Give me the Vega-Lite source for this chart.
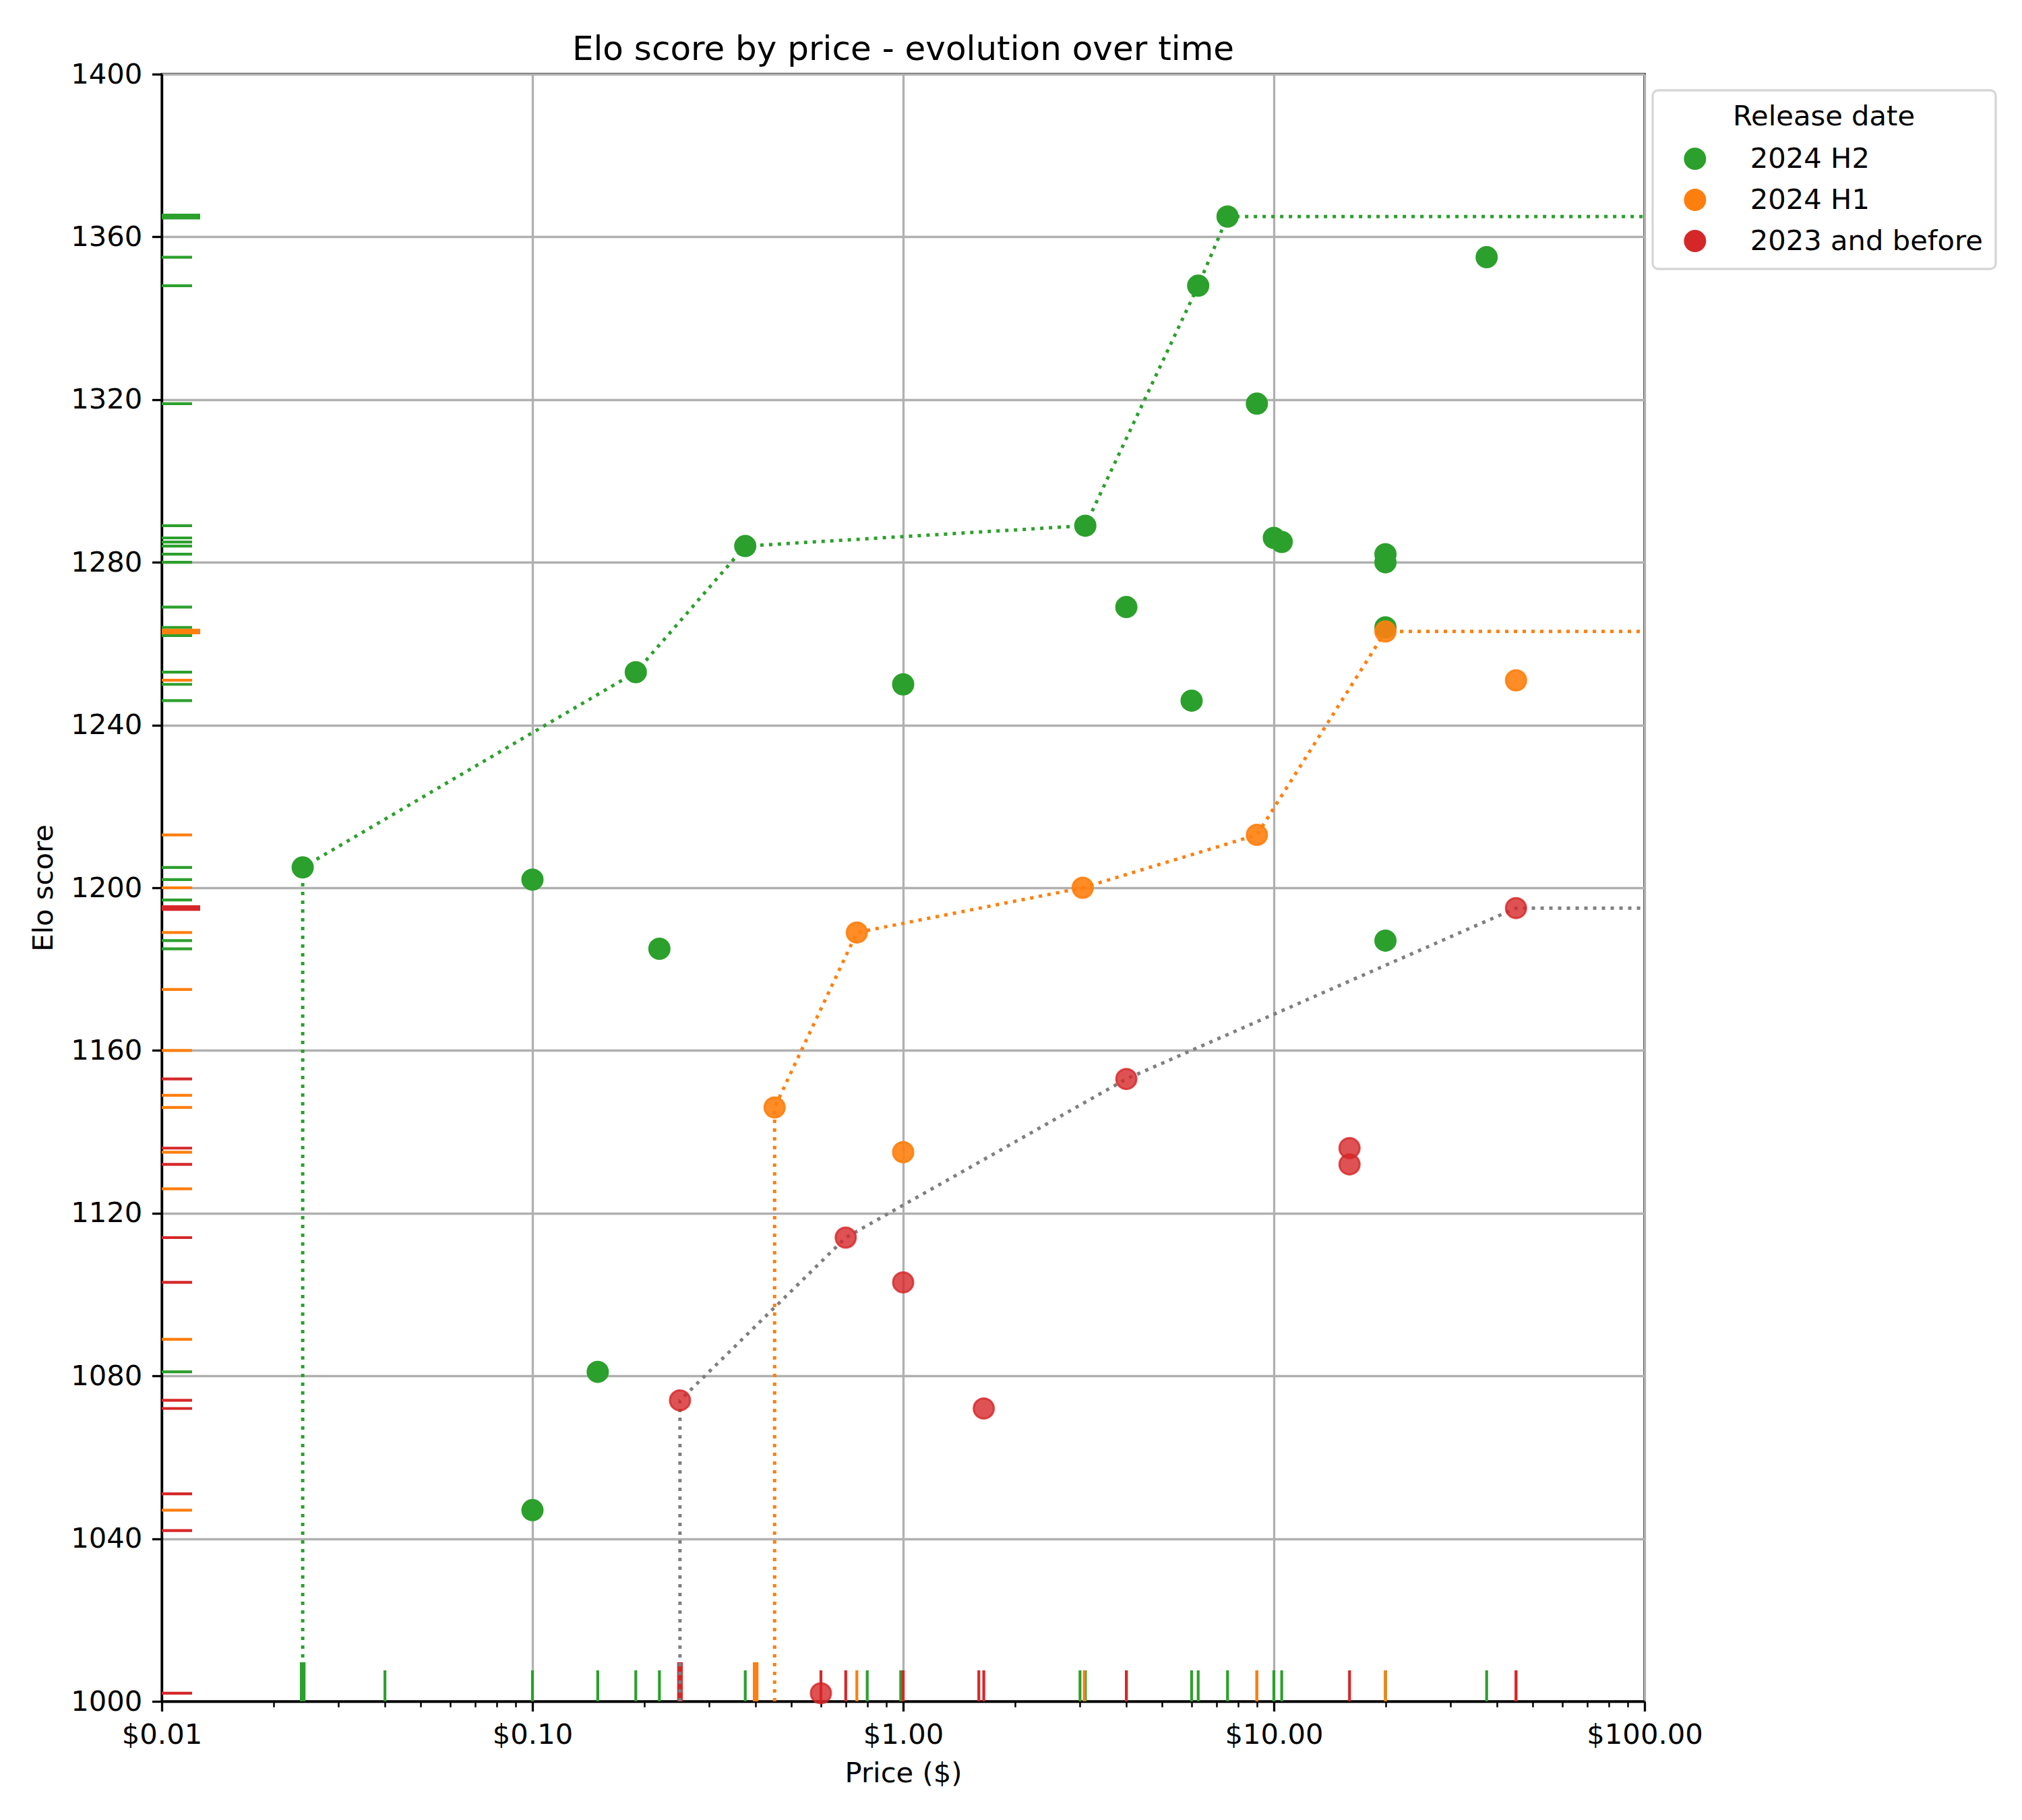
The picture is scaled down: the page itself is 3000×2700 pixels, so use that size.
{
  "$schema": "https://vega.github.io/schema/vega-lite/v6.json",
  "width": 2200,
  "height": 2414,
  "autosize": {"type": "none"},
  "padding": {"left": 240, "top": 110, "right": 560, "bottom": 176},
  "background": "white",
  "title": {
    "text": "Elo score by price - evolution over time",
    "fontSize": 50,
    "fontWeight": "normal",
    "color": "black",
    "offset": -9,
    "anchor": "middle"
  },
  "datasets": {
    "models": [
      {"price": 0.024, "elo": 1205, "group": "2024 H2"},
      {"price": 0.1, "elo": 1202, "group": "2024 H2"},
      {"price": 0.1, "elo": 1047, "group": "2024 H2"},
      {"price": 0.15, "elo": 1081, "group": "2024 H2"},
      {"price": 0.19, "elo": 1253, "group": "2024 H2"},
      {"price": 0.22, "elo": 1185, "group": "2024 H2"},
      {"price": 0.375, "elo": 1284, "group": "2024 H2"},
      {"price": 1.0, "elo": 1250, "group": "2024 H2"},
      {"price": 3.1, "elo": 1289, "group": "2024 H2"},
      {"price": 4.0, "elo": 1269, "group": "2024 H2"},
      {"price": 6.0, "elo": 1246, "group": "2024 H2"},
      {"price": 6.25, "elo": 1348, "group": "2024 H2"},
      {"price": 7.5, "elo": 1365, "group": "2024 H2"},
      {"price": 9.0, "elo": 1319, "group": "2024 H2"},
      {"price": 10.0, "elo": 1286, "group": "2024 H2"},
      {"price": 10.5, "elo": 1285, "group": "2024 H2"},
      {"price": 20, "elo": 1282, "group": "2024 H2"},
      {"price": 20, "elo": 1280, "group": "2024 H2"},
      {"price": 20, "elo": 1264, "group": "2024 H2"},
      {"price": 20, "elo": 1187, "group": "2024 H2"},
      {"price": 37.5, "elo": 1355, "group": "2024 H2"},
      {"price": 0.45, "elo": 1146, "group": "2024 H1"},
      {"price": 0.75, "elo": 1189, "group": "2024 H1"},
      {"price": 1.0, "elo": 1135, "group": "2024 H1"},
      {"price": 3.05, "elo": 1200, "group": "2024 H1"},
      {"price": 9.0, "elo": 1213, "group": "2024 H1"},
      {"price": 20, "elo": 1263, "group": "2024 H1"},
      {"price": 45, "elo": 1251, "group": "2024 H1"},
      {"price": 0.25, "elo": 1074, "group": "2023 and before"},
      {"price": 0.6, "elo": 1002, "group": "2023 and before"},
      {"price": 0.7, "elo": 1114, "group": "2023 and before"},
      {"price": 1.0, "elo": 1103, "group": "2023 and before"},
      {"price": 1.65, "elo": 1072, "group": "2023 and before"},
      {"price": 4.0, "elo": 1153, "group": "2023 and before"},
      {"price": 16, "elo": 1136, "group": "2023 and before"},
      {"price": 16, "elo": 1132, "group": "2023 and before"},
      {"price": 45, "elo": 1195, "group": "2023 and before"}
    ],
    "frontier": [
      {"price": 0.024, "elo": 1000, "group": "2024 H2", "step": 0},
      {"price": 0.024, "elo": 1205, "group": "2024 H2", "step": 1},
      {"price": 0.19, "elo": 1253, "group": "2024 H2", "step": 2},
      {"price": 0.375, "elo": 1284, "group": "2024 H2", "step": 3},
      {"price": 3.1, "elo": 1289, "group": "2024 H2", "step": 4},
      {"price": 6.25, "elo": 1348, "group": "2024 H2", "step": 5},
      {"price": 7.5, "elo": 1365, "group": "2024 H2", "step": 6},
      {"price": 100, "elo": 1365, "group": "2024 H2", "step": 7},
      {"price": 0.45, "elo": 1000, "group": "2024 H1", "step": 0},
      {"price": 0.45, "elo": 1146, "group": "2024 H1", "step": 1},
      {"price": 0.75, "elo": 1189, "group": "2024 H1", "step": 2},
      {"price": 3.05, "elo": 1200, "group": "2024 H1", "step": 3},
      {"price": 9.0, "elo": 1213, "group": "2024 H1", "step": 4},
      {"price": 20, "elo": 1263, "group": "2024 H1", "step": 5},
      {"price": 100, "elo": 1263, "group": "2024 H1", "step": 6},
      {"price": 0.25, "elo": 1000, "group": "2023 and before", "step": 0},
      {"price": 0.25, "elo": 1074, "group": "2023 and before", "step": 1},
      {"price": 0.7, "elo": 1114, "group": "2023 and before", "step": 2},
      {"price": 4.0, "elo": 1153, "group": "2023 and before", "step": 3},
      {"price": 45, "elo": 1195, "group": "2023 and before", "step": 4},
      {"price": 100, "elo": 1195, "group": "2023 and before", "step": 5}
    ],
    "xrug": [
      {"price": 0.04, "group": "2024 H2", "long": 0},
      {"price": 0.1, "group": "2024 H2", "long": 0},
      {"price": 0.15, "group": "2024 H2", "long": 0},
      {"price": 0.19, "group": "2024 H2", "long": 0},
      {"price": 0.22, "group": "2024 H2", "long": 0},
      {"price": 0.375, "group": "2024 H2", "long": 0},
      {"price": 0.8, "group": "2024 H2", "long": 0},
      {"price": 0.985, "group": "2024 H2", "long": 0},
      {"price": 3.0, "group": "2024 H2", "long": 0},
      {"price": 3.1, "group": "2024 H2", "long": 0},
      {"price": 4.0, "group": "2024 H2", "long": 0},
      {"price": 6.0, "group": "2024 H2", "long": 0},
      {"price": 6.25, "group": "2024 H2", "long": 0},
      {"price": 7.5, "group": "2024 H2", "long": 0},
      {"price": 9.0, "group": "2024 H2", "long": 0},
      {"price": 10.0, "group": "2024 H2", "long": 0},
      {"price": 10.5, "group": "2024 H2", "long": 0},
      {"price": 20, "group": "2024 H2", "long": 0},
      {"price": 37.5, "group": "2024 H2", "long": 0},
      {"price": 0.75, "group": "2024 H1", "long": 0},
      {"price": 1.0, "group": "2024 H1", "long": 0},
      {"price": 3.08, "group": "2024 H1", "long": 0},
      {"price": 9.0, "group": "2024 H1", "long": 0},
      {"price": 20, "group": "2024 H1", "long": 0},
      {"price": 45, "group": "2024 H1", "long": 0},
      {"price": 0.6, "group": "2023 and before", "long": 0},
      {"price": 0.7, "group": "2023 and before", "long": 0},
      {"price": 1.0, "group": "2023 and before", "long": 0},
      {"price": 1.6, "group": "2023 and before", "long": 0},
      {"price": 1.65, "group": "2023 and before", "long": 0},
      {"price": 4.0, "group": "2023 and before", "long": 0},
      {"price": 16, "group": "2023 and before", "long": 0},
      {"price": 45, "group": "2023 and before", "long": 0},
      {"price": 0.024, "group": "2024 H2", "long": 1},
      {"price": 0.4, "group": "2024 H1", "long": 1},
      {"price": 0.25, "group": "2023 and before", "long": 1}
    ],
    "yrug": [
      {"elo": 1355, "group": "2024 H2", "long": 0},
      {"elo": 1348, "group": "2024 H2", "long": 0},
      {"elo": 1319, "group": "2024 H2", "long": 0},
      {"elo": 1289, "group": "2024 H2", "long": 0},
      {"elo": 1286, "group": "2024 H2", "long": 0},
      {"elo": 1285, "group": "2024 H2", "long": 0},
      {"elo": 1284, "group": "2024 H2", "long": 0},
      {"elo": 1282, "group": "2024 H2", "long": 0},
      {"elo": 1280, "group": "2024 H2", "long": 0},
      {"elo": 1269, "group": "2024 H2", "long": 0},
      {"elo": 1264, "group": "2024 H2", "long": 0},
      {"elo": 1262, "group": "2024 H2", "long": 0},
      {"elo": 1253, "group": "2024 H2", "long": 0},
      {"elo": 1250, "group": "2024 H2", "long": 0},
      {"elo": 1246, "group": "2024 H2", "long": 0},
      {"elo": 1205, "group": "2024 H2", "long": 0},
      {"elo": 1202, "group": "2024 H2", "long": 0},
      {"elo": 1197, "group": "2024 H2", "long": 0},
      {"elo": 1187, "group": "2024 H2", "long": 0},
      {"elo": 1185, "group": "2024 H2", "long": 0},
      {"elo": 1081, "group": "2024 H2", "long": 0},
      {"elo": 1251, "group": "2024 H1", "long": 0},
      {"elo": 1213, "group": "2024 H1", "long": 0},
      {"elo": 1200, "group": "2024 H1", "long": 0},
      {"elo": 1189, "group": "2024 H1", "long": 0},
      {"elo": 1175, "group": "2024 H1", "long": 0},
      {"elo": 1160, "group": "2024 H1", "long": 0},
      {"elo": 1149, "group": "2024 H1", "long": 0},
      {"elo": 1146, "group": "2024 H1", "long": 0},
      {"elo": 1135, "group": "2024 H1", "long": 0},
      {"elo": 1126, "group": "2024 H1", "long": 0},
      {"elo": 1089, "group": "2024 H1", "long": 0},
      {"elo": 1047, "group": "2024 H1", "long": 0},
      {"elo": 1153, "group": "2023 and before", "long": 0},
      {"elo": 1136, "group": "2023 and before", "long": 0},
      {"elo": 1132, "group": "2023 and before", "long": 0},
      {"elo": 1114, "group": "2023 and before", "long": 0},
      {"elo": 1103, "group": "2023 and before", "long": 0},
      {"elo": 1074, "group": "2023 and before", "long": 0},
      {"elo": 1072, "group": "2023 and before", "long": 0},
      {"elo": 1051, "group": "2023 and before", "long": 0},
      {"elo": 1042, "group": "2023 and before", "long": 0},
      {"elo": 1002, "group": "2023 and before", "long": 0},
      {"elo": 1365, "group": "2024 H2", "long": 1},
      {"elo": 1263, "group": "2024 H1", "long": 1},
      {"elo": 1195, "group": "2023 and before", "long": 1}
    ]
  },
  "layer": [
    {
      "data": {"name": "xrug"},
      "transform": [{"filter": "datum.long == 0"}],
      "mark": {"type": "rule", "strokeWidth": 4.2, "y2Offset": -46},
      "encoding": {
        "x": {
          "field": "price", "type": "quantitative",
          "scale": {"type": "log", "domain": [0.01, 100], "nice": false},
          "axis": {
            "orient": "bottom",
            "values": [0.02, 0.03, 0.04, 0.05, 0.06, 0.07, 0.08, 0.09, 0.2, 0.3, 0.4, 0.5, 0.6, 0.7, 0.8, 0.9, 2, 3, 4, 5, 6, 7, 8, 9, 20, 30, 40, 50, 60, 70, 80, 90],
            "labels": false, "domain": false, "grid": false, "title": null,
            "tickSize": 8.3, "tickWidth": 2.5
          }
        },
        "y": {"datum": 1000, "type": "quantitative", "scale": {"domain": [1000, 1400], "nice": false, "zero": false}},
        "y2": {"datum": 1000},
        "color": {
          "field": "group", "type": "nominal", "legend": null,
          "scale": {"domain": ["2023 and before", "2024 H1", "2024 H2"], "range": ["#d62728", "#ff7f0e", "#2ca02c"]}
        }
      }
    },
    {
      "data": {"name": "xrug"},
      "transform": [{"filter": "datum.long == 1"}],
      "mark": {"type": "rule", "strokeWidth": 8.3, "y2Offset": -58},
      "encoding": {
        "x": {"field": "price", "type": "quantitative", "axis": null},
        "y": {"datum": 1000, "type": "quantitative"},
        "y2": {"datum": 1000},
        "color": {"field": "group", "type": "nominal", "legend": null}
      }
    },
    {
      "data": {"name": "yrug"},
      "transform": [{"filter": "datum.long == 0"}],
      "mark": {"type": "rule", "strokeWidth": 4.2, "x2Offset": 45},
      "encoding": {
        "y": {"field": "elo", "type": "quantitative"},
        "x": {"datum": 0.01, "type": "quantitative", "axis": null},
        "x2": {"datum": 0.01},
        "color": {"field": "group", "type": "nominal", "legend": null}
      }
    },
    {
      "data": {"name": "yrug"},
      "transform": [{"filter": "datum.long == 1"}],
      "mark": {"type": "rule", "strokeWidth": 8.3, "x2Offset": 57},
      "encoding": {
        "y": {"field": "elo", "type": "quantitative"},
        "x": {"datum": 0.01, "type": "quantitative", "axis": null},
        "x2": {"datum": 0.01},
        "color": {"field": "group", "type": "nominal", "legend": null}
      }
    },
    {
      "data": {"name": "frontier"},
      "mark": {"type": "line", "strokeWidth": 5, "strokeDash": [5, 8]},
      "encoding": {
        "x": {"field": "price", "type": "quantitative", "axis": null},
        "y": {"field": "elo", "type": "quantitative"},
        "color": {
          "condition": {"test": "datum.group == '2023 and before'", "value": "#7f7f7f"},
          "field": "group", "type": "nominal", "legend": null
        },
        "order": {"field": "step", "type": "quantitative"}
      }
    },
    {
      "data": {"name": "models"},
      "mark": {"type": "circle", "size": 900, "strokeWidth": 3, "opacity": 1},
      "encoding": {
        "x": {
          "field": "price", "type": "quantitative",
          "axis": {
            "orient": "bottom",
            "values": [0.01, 0.1, 1, 10, 100],
            "labelExpr": "'$' + format(datum.value, '.2f')",
            "title": "Price ($)",
            "titlePadding": 16,
            "grid": true
          }
        },
        "y": {
          "field": "elo", "type": "quantitative",
          "axis": {
            "values": [1000, 1040, 1080, 1120, 1160, 1200, 1240, 1280, 1320, 1360, 1400],
            "format": "d",
            "title": "Elo score",
            "titlePadding": 18,
            "grid": true
          }
        },
        "fill": {
          "field": "group", "type": "nominal",
          "scale": {"domain": ["2024 H2", "2024 H1", "2023 and before"], "range": ["#2ca02c", "#ff7f0e", "#d62728"]},
          "legend": {"title": "Release date"}
        },
        "stroke": {
          "field": "group", "type": "nominal",
          "scale": {"domain": ["2024 H2", "2024 H1", "2023 and before"], "range": ["#2ca02c", "#ff7f0e", "#d62728"]},
          "legend": {"title": "Release date"}
        },
        "fillOpacity": {
          "field": "group", "type": "nominal",
          "scale": {"type": "ordinal", "domain": ["2024 H2", "2024 H1", "2023 and before"], "range": [1, 0.9, 0.8]},
          "legend": {"title": "Release date"}
        },
        "strokeOpacity": {
          "field": "group", "type": "nominal",
          "scale": {"type": "ordinal", "domain": ["2024 H2", "2024 H1", "2023 and before"], "range": [1, 0.9, 0.8]},
          "legend": {"title": "Release date"}
        }
      }
    }
  ],
  "resolve": {"axis": {"x": "independent"}},
  "config": {
    "font": "DejaVu Sans",
    "view": {"stroke": "black", "strokeWidth": 3.3},
    "axis": {
      "labelFont": "DejaVu Sans",
      "labelFontSize": 41.7,
      "labelColor": "black",
      "titleFont": "DejaVu Sans",
      "titleFontSize": 41.7,
      "titleFontWeight": "normal",
      "titleColor": "black",
      "domainColor": "black",
      "domainWidth": 3.3,
      "tickColor": "black",
      "tickWidth": 3.3,
      "tickSize": 14.6,
      "labelPadding": 14.6,
      "gridColor": "#b0b0b0",
      "gridWidth": 3.3,
      "gridOpacity": 1,
      "labelFlush": false,
      "labelOverlap": false
    },
    "legend": {
      "orient": "none",
      "legendX": 2212,
      "legendY": 24,
      "titleFont": "DejaVu Sans",
      "titleFontSize": 41.7,
      "titleFontWeight": "normal",
      "titleColor": "black",
      "titleAnchor": "middle",
      "titlePadding": 20,
      "titleLimit": 2000,
      "labelFont": "DejaVu Sans",
      "labelFontSize": 41.7,
      "labelColor": "black",
      "labelOffset": 61,
      "labelLimit": 2000,
      "padding": 19,
      "strokeColor": "#d6d6d6",
      "strokeWidth": 3.3,
      "cornerRadius": 8,
      "fillColor": "white",
      "symbolType": "circle",
      "symbolSize": 900,
      "symbolStrokeWidth": 3,
      "symbolOffset": 23,
      "rowPadding": 17
    }
  }
}
